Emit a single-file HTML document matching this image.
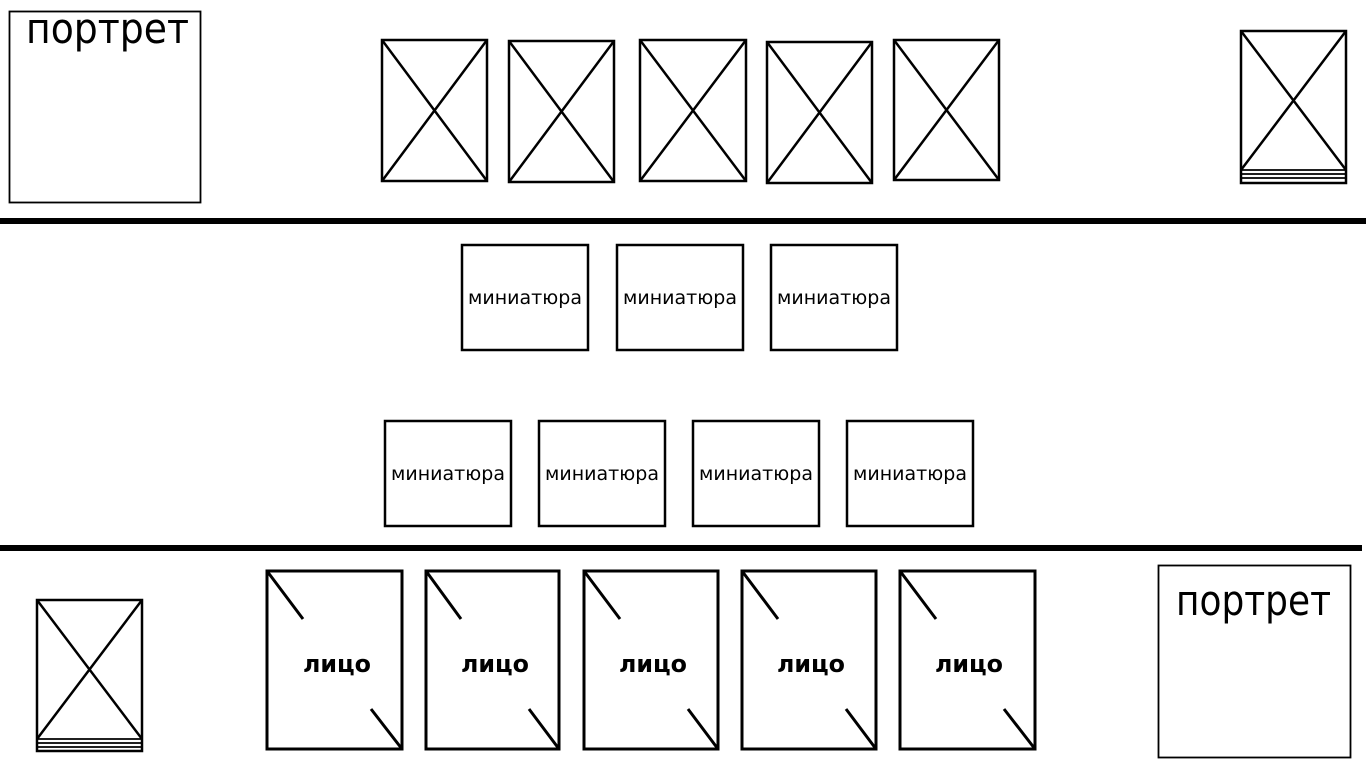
<!DOCTYPE html>
<html><head><meta charset="utf-8"><style>
html,body{margin:0;padding:0;background:#fff;width:1366px;height:768px;overflow:hidden}
svg{display:block}
text{font-family:"DejaVu Sans","Liberation Sans",sans-serif;fill:#000}
</style></head><body>
<svg width="1366" height="768" viewBox="0 0 1366 768" xmlns="http://www.w3.org/2000/svg">
<g fill="none" stroke="#000">
<rect x="9.5" y="11.5" width="191" height="191" stroke-width="1.8"/>
<g stroke-width="2.5">
<rect x="382" y="40" width="105" height="141"/><path d="M382 40L487 181M487 40L382 181"/>
<rect x="509" y="41" width="105" height="141"/><path d="M509 41L614 182M614 41L509 182"/>
<rect x="640" y="40" width="106" height="141"/><path d="M640 40L746 181M746 40L640 181"/>
<rect x="767" y="42" width="105" height="141"/><path d="M767 42L872 183M872 42L767 183"/>
<rect x="894" y="40" width="105" height="140"/><path d="M894 40L999 180M999 40L894 180"/>
<rect x="1241" y="31" width="105" height="152"/><path d="M1241 31L1346 170M1346 31L1241 170"/>
<path d="M1241 170H1346M1241 174H1346M1241 178H1346" stroke-width="1.8"/>
<rect x="37" y="600" width="105" height="151"/><path d="M37 600L142 739M142 600L37 739"/>
<path d="M37 739H142M37 743H142M37 747H142" stroke-width="1.8"/>
</g>
<rect x="0" y="218" width="1366" height="6" fill="#000" stroke="none"/>
<rect x="0" y="545" width="1362" height="6" fill="#000" stroke="none"/>
<g stroke-width="2.5">
<rect x="462" y="245" width="126" height="105"/>
<rect x="617" y="245" width="126" height="105"/>
<rect x="771" y="245" width="126" height="105"/>
<rect x="385" y="421" width="126" height="105"/>
<rect x="539" y="421" width="126" height="105"/>
<rect x="693" y="421" width="126" height="105"/>
<rect x="847" y="421" width="126" height="105"/>
</g>
<g stroke-width="3">
<rect x="267" y="571" width="135" height="178"/><path d="M267 571L303 619M371 709L402 749"/>
<rect x="426" y="571" width="133" height="178"/><path d="M426 571L461 619M529 709L559 749"/>
<rect x="584" y="571" width="134" height="178"/><path d="M584 571L620 619M688 709L718 749"/>
<rect x="742" y="571" width="134" height="178"/><path d="M742 571L778 619M846 709L876 749"/>
<rect x="900" y="571" width="135" height="178"/><path d="M900 571L936 619M1004 709L1035 749"/>
</g>
<rect x="1158.5" y="565.5" width="192" height="192" stroke-width="1.8"/>
</g>
<text x="26" y="43" font-size="42" textLength="163" lengthAdjust="spacingAndGlyphs">портрет</text>
<text x="1176" y="615" font-size="42" textLength="155" lengthAdjust="spacingAndGlyphs">портрет</text>
<g font-size="19">
<text x="468" y="304" textLength="114" lengthAdjust="spacingAndGlyphs">миниатюра</text>
<text x="623" y="304" textLength="114" lengthAdjust="spacingAndGlyphs">миниатюра</text>
<text x="777" y="304" textLength="114" lengthAdjust="spacingAndGlyphs">миниатюра</text>
<text x="391" y="480" textLength="114" lengthAdjust="spacingAndGlyphs">миниатюра</text>
<text x="545" y="480" textLength="114" lengthAdjust="spacingAndGlyphs">миниатюра</text>
<text x="699" y="480" textLength="114" lengthAdjust="spacingAndGlyphs">миниатюра</text>
<text x="853" y="480" textLength="114" lengthAdjust="spacingAndGlyphs">миниатюра</text>
</g>
<g font-size="24" font-weight="bold">
<text x="303" y="672" textLength="68" lengthAdjust="spacingAndGlyphs">лицо</text>
<text x="461" y="672" textLength="68" lengthAdjust="spacingAndGlyphs">лицо</text>
<text x="619" y="672" textLength="68" lengthAdjust="spacingAndGlyphs">лицо</text>
<text x="777" y="672" textLength="68" lengthAdjust="spacingAndGlyphs">лицо</text>
<text x="935" y="672" textLength="68" lengthAdjust="spacingAndGlyphs">лицо</text>
</g>
</svg>
</body></html>
